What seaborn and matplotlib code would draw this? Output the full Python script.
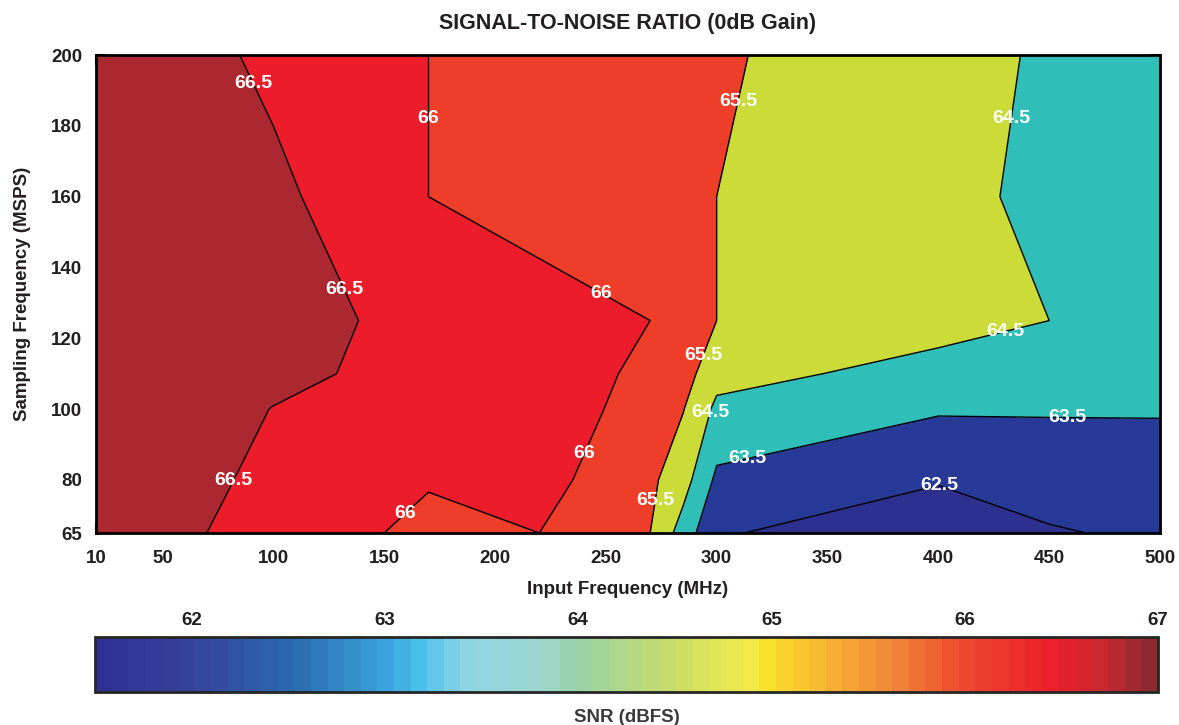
import numpy as np
import matplotlib
matplotlib.use("Agg")
import matplotlib.pyplot as plt
import seaborn as sns
from matplotlib.colors import LinearSegmentedColormap, Normalize
import matplotlib.cm as cm

input_freq = [20, 100, 140, 170, 220, 270, 285, 300, 400, 450, 500]
sampling_freq = [65, 80, 100, 110, 125, 160, 200]
snr_65 = [66.8, 66.32, 66.05, 65.9, 66.0, 65.5, 64.05, 62.6, 61.8, 62.45, 62.6]
snr_80 = [66.85, 66.4, 66.2, 66.03, 66.13, 65.7, 64.9, 63.3, 62.58, 62.75, 62.7]
snr_100 = [66.9, 66.49, 66.3, 66.2, 66.14, 65.9, 65.53, 64.28, 63.6, 63.6, 63.62]
snr_110 = [66.9, 66.6, 66.46, 66.25, 66.15, 65.94, 65.9, 64.85, 64.12, 63.96, 63.85]
snr_125 = [66.9, 66.75, 66.49, 66.3, 66.15, 66.0, 65.75, 65.5, 64.9, 64.5, 64.2]
snr_160 = [66.9, 66.57, 66.35, 66.0, 65.85, 65.7, 65.55, 65.5, 65.0, 64.1, 63.9]
snr_200 = [66.8, 66.43, 66.18, 66.0, 65.85, 65.7, 65.65, 65.6, 64.9, 64.36, 64.1]

contour_levels = [62.5, 63.5, 64.5, 65.5, 66.0, 66.5]
fill_levels = [61.0, 62.5, 63.5, 64.5, 65.5, 66.0, 66.5, 67.5]
fill_colors = ["#2E3090", "#283A97", "#2FBFB8", "#CBDB37", "#EE3D28", "#EC1C2A", "#AC2830"]

# where the level labels sit
label_x = [91, 170, 309, 435, 133, 248, 294, 430, 297, 458, 238, 314, 400, 82, 159, 273]
label_y = [192, 182, 187, 182, 134, 133, 115, 122, 99, 98, 88, 86, 78, 80, 71, 74]

x_ticks = [20, 50, 100, 150, 200, 250, 300, 350, 400, 450, 500]
x_ticklabels = ["10", "50", "100", "150", "200", "250", "300", "350", "400", "450", "500"]
y_ticks = [65, 80, 100, 120, 140, 160, 180, 200]
cbar_ticks = [62, 63, 64, 65, 66, 67]

# colour scale of the SNR bar
cbar_stops = [61.5, 62.0, 62.5, 63.0, 63.15, 63.4, 63.8, 64.0, 64.5, 64.9, 65.0, 65.3, 65.7, 66.0, 66.5, 66.75, 67.0]
cbar_colors = ["#2E3192", "#36449C", "#2A6AB0", "#3BA5DC", "#47BFEA", "#8DD5E5", "#9DD6CF", "#99D2A7",
               "#C9DD66", "#F3EB4B", "#FBE02A", "#F8B432", "#F08038", "#EE4A2E", "#EB1E2C", "#C8282E", "#8E2A2F"]

sns.set_style("ticks")
plt.rcParams['font.family'] = ['Liberation Sans', 'DejaVu Sans']
plt.rcParams['font.weight'] = 'bold'
text_color = "#231F20"

fig = plt.figure(figsize=(11.79, 7.25), dpi=100)
ax = fig.add_axes([0.0814, 0.2648, 0.9025, 0.6593])

X, Y = np.meshgrid(input_freq, sampling_freq)
Z = np.array([snr_65, snr_80, snr_100, snr_110, snr_125, snr_160, snr_200])

ax.contourf(X, Y, Z, levels=fill_levels, colors=fill_colors)
lines = ax.contour(X, Y, Z, levels=contour_levels, colors="black", linewidths=1.0)

ax.set_xlim(20, 500)
ax.set_ylim(65, 200)
ax.set_xticks(x_ticks)
ax.set_xticklabels(x_ticklabels)
ax.set_yticks(y_ticks)
ax.tick_params(direction="in", top=True, right=True, length=7, width=1.5,
               labelsize=13.5, colors=text_color)
ax.tick_params(axis="x", pad=12)
ax.tick_params(axis="y", pad=10)
for s in ax.spines.values():
    s.set_linewidth(2)
    s.set_color("black")

ax.set_title("SIGNAL-TO-NOISE RATIO (0dB Gain)", fontsize=15.5, fontweight="bold",
             color=text_color, pad=19)
ax.set_xlabel("Input Frequency (MHz)", fontsize=13.5, fontweight="bold", color=text_color, labelpad=10)
ax.set_ylabel("Sampling Frequency (MSPS)", fontsize=13.5, fontweight="bold", color=text_color, labelpad=14)

labels = ax.clabel(lines, manual=list(zip(label_x, label_y)), inline=False,
                   fontsize=14, colors="white", fmt=lambda v: f"{v:g}")
for t in labels:
    t.set_rotation(0)
    t.set_fontweight("bold")

# colour bar underneath
cax = fig.add_axes([0.0806, 0.0455, 0.9016, 0.0759])
cmap = LinearSegmentedColormap.from_list(
    "snr", list(zip([(v - cbar_stops[0]) / (cbar_stops[-1] - cbar_stops[0]) for v in cbar_stops], cbar_colors)), N=64)
sm = cm.ScalarMappable(cmap=cmap, norm=Normalize(vmin=61.5, vmax=67))
cbar = fig.colorbar(sm, cax=cax, orientation="horizontal")
cbar.outline.set_linewidth(2)
cbar.set_ticks(cbar_ticks)
cax.xaxis.set_ticks_position("both")
cax.tick_params(direction="in", length=7, width=1.2, labeltop=True, labelbottom=False,
                labelsize=13.5, colors=text_color, pad=6)
cbar.set_label("SNR (dBFS)", fontsize=13.5, fontweight="bold", color="#3A3A3A", labelpad=12)
cax.xaxis.set_label_position("bottom")

fig.savefig("out.png", dpi=100)
